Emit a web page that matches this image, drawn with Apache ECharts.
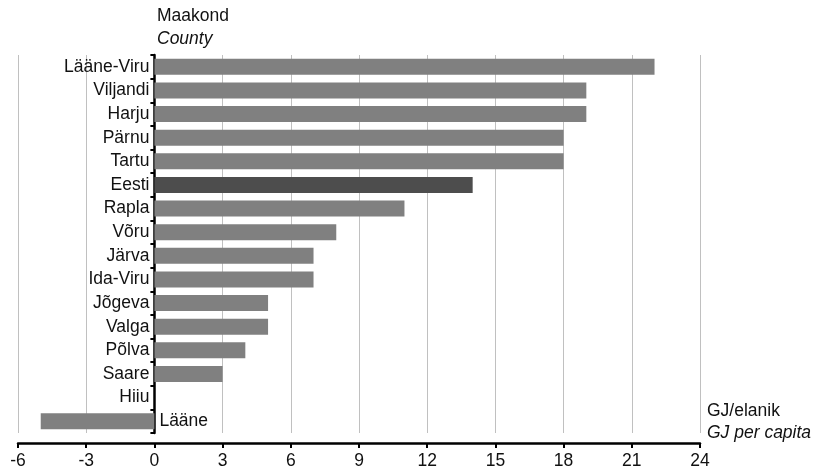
<!DOCTYPE html>
<html>
<head>
<meta charset="utf-8">
<script src="https://cdn.jsdelivr.net/npm/echarts@6/dist/echarts.min.js"></script>
<style>html,body{margin:0;padding:0;background:#fff}#c{width:815px;height:472px}</style>
</head>
<body>
<div id="c"></div>
<script>
const categories = ["Lääne-Viru","Viljandi","Harju","Pärnu","Tartu","Eesti","Rapla","Võru","Järva","Ida-Viru","Jõgeva","Valga","Põlva","Saare","Hiiu","Lääne"];
const values = [22,19,19,18,18,14,11,8,7,7,5,5,4,3,0,-5];
const highlight = "Eesti";
const xTicks = {min:-6, max:24, interval:3};
const font = "'Liberation Sans', Arial, sans-serif";

const chart = echarts.init(document.getElementById('c'));
const data = values.map((v,i)=>({
  value: v,
  itemStyle: {color: categories[i]===highlight ? '#4d4d4d' : '#808080'},
  label: {position: v < 0 ? 'right' : 'left'}
}));
chart.setOption({
  animation:false,
  textStyle:{fontFamily:font},
  grid:{left:18,right:115,top:55,bottom:39,containLabel:false},
  xAxis:{type:'value',min:xTicks.min,max:xTicks.max,interval:xTicks.interval,offset:10,
    axisLine:{show:true,lineStyle:{color:'#000',width:2.5}},
    axisTick:{show:true,length:5,lineStyle:{color:'#000',width:2}},
    axisLabel:{color:'#111',fontSize:17.5,fontFamily:font,margin:9},
    splitLine:{show:true,lineStyle:{color:'#c0c0c0',width:1}}},
  yAxis:{type:'category',data:categories,inverse:true,
    axisLine:{show:true,onZero:true,lineStyle:{color:'#000',width:2.5}},
    axisTick:{show:true,length:4,lineStyle:{color:'#000',width:2}},
    axisLabel:{show:false},splitLine:{show:false}},
  series:[{type:'bar',data:data,barWidth:16,
    label:{show:true,formatter:'{b}',distance:5,color:'#111',fontSize:17.5,fontFamily:font},
    z:1}],
  graphic:[
    {type:'text',left:157,top:7,style:{text:'Maakond',fontSize:17.5,fontFamily:font,fill:'#111'}},
    {type:'text',left:157,top:30,style:{text:'County',fontSize:17.5,fontStyle:'italic',fontFamily:font,fill:'#111'}},
    {type:'text',left:707,top:402,style:{text:'GJ/elanik',fontSize:17.5,fontFamily:font,fill:'#111'}},
    {type:'text',left:707,top:424,style:{text:'GJ per capita',fontSize:17.5,fontStyle:'italic',fontFamily:font,fill:'#111'}}
  ]
});
</script>
</body>
</html>
